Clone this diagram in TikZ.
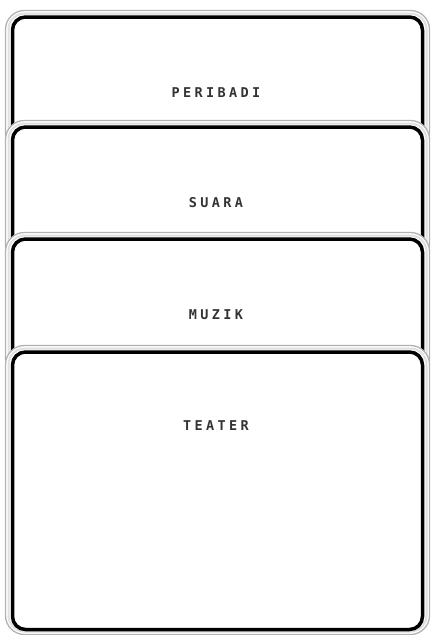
\documentclass[tikz,border=0pt]{standalone}
\usepackage{fontspec}
\newfontfamily\labelfont[LetterSpace=25]{DejaVu Sans Mono}
\begin{document}
\begin{tikzpicture}[x=1pt,y=1pt,
  panel/.style={draw=black, line width=3.5pt, rounded corners=13pt, fill=white,
    inner sep=0pt, outer sep=0pt, minimum width=410pt, anchor=north west},
  halo/.style={fill=white, draw=black!30, line width=1.3pt, rounded corners=19pt},
  haloin/.style={draw=black!12, line width=2pt, rounded corners=16pt},
  lbl/.style={font=\labelfont\bfseries\fontsize{13.5}{16}\selectfont, text=black!80, inner sep=0pt}]
\useasboundingbox (0,0) rectangle (432,-635);
% box 1
\coordinate (h1a) at (5.5,-10.5); \coordinate (h1b) at (429.5,-153);
\draw[halo] (h1a) rectangle (h1b);
\draw[haloin] ([shift={(3,-3)}]h1a) rectangle ([shift={(-3,3)}]h1b);
\node[panel, minimum height=130pt] (b1) at (12.5,-17) {};
\node[lbl] (t1) at (216,-93) {PERIBADI};
% box 2
\coordinate (h2a) at (5.5,-120.5); \coordinate (h2b) at (429.5,-265);
\draw[halo] (h2a) rectangle (h2b);
\draw[haloin] ([shift={(3,-3)}]h2a) rectangle ([shift={(-3,3)}]h2b);
\node[panel, minimum height=132pt] (b2) at (12.5,-127) {};
\node[lbl] (t2) at (216,-203) {SUARA};
% box 3
\coordinate (h3a) at (5.5,-232.5); \coordinate (h3b) at (429.5,-378);
\draw[halo] (h3a) rectangle (h3b);
\draw[haloin] ([shift={(3,-3)}]h3a) rectangle ([shift={(-3,3)}]h3b);
\node[panel, minimum height=133pt] (b3) at (12.5,-239) {};
\node[lbl] (t3) at (216,-315) {MUZIK};
% box 4
\coordinate (h4a) at (5.5,-345.5); \coordinate (h4b) at (429.5,-634.5);
\draw[halo] (h4a) rectangle (h4b);
\draw[haloin] ([shift={(3,-3)}]h4a) rectangle ([shift={(-3,3)}]h4b);
\node[panel, minimum height=277.5pt] (b4) at (12.5,-352) {};
\node[lbl] (t4) at (216,-426) {TEATER};
\end{tikzpicture}
\end{document}
